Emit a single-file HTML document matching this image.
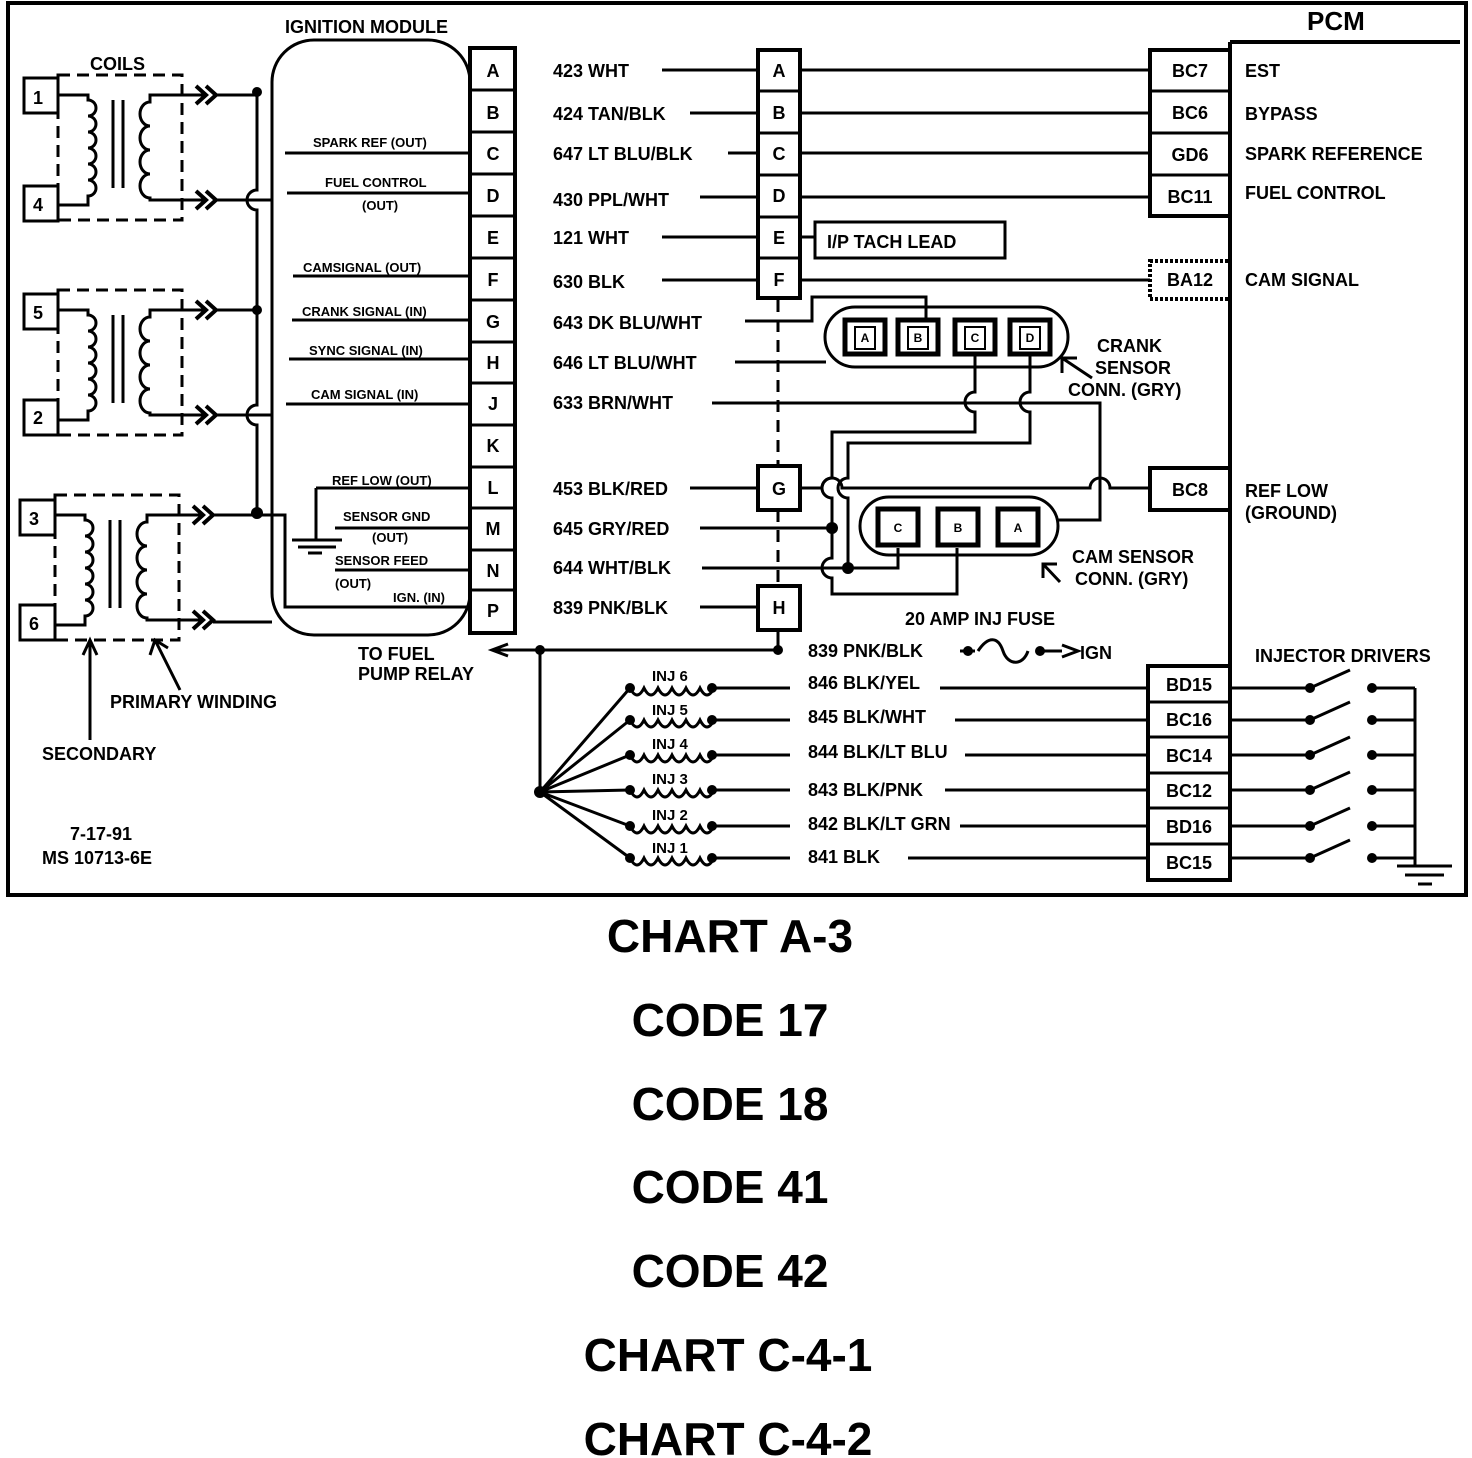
<!DOCTYPE html>
<html><head><meta charset="utf-8"><style>
html,body{margin:0;padding:0;background:#fff}
svg{display:block}
text{font-family:"Liberation Sans",sans-serif;font-weight:bold;fill:#000}
</style></head><body>
<svg width="1472" height="1458" viewBox="0 0 1472 1458" xmlns="http://www.w3.org/2000/svg">
<defs>
<g id="coil" fill="none" stroke="#000" stroke-width="3">
  <rect x="58" y="75" width="124" height="145" stroke-dasharray="12,7"/>
  <path d="M58,95 H88 V100 a8,8 0 0 1 0,16 a8,8 0 0 1 0,16 a8,8 0 0 1 0,16 a8,8 0 0 1 0,16 a8,8 0 0 1 0,16 a8,8 0 0 1 0,16 V205 H58"/>
  <line x1="113" y1="100" x2="113" y2="188"/><line x1="123" y1="100" x2="123" y2="188"/>
  <path d="M205,95 H150 V102 a10,12 0 0 0 0,24 a10,12 0 0 0 0,24 a10,12 0 0 0 0,24 a10,12 0 0 0 0,24 V200 H205"/>
  <path d="M196,86 l10,9 l-10,9 M206,86 l10,9 l-10,9 M196,191 l10,9 l-10,9 M206,191 l10,9 l-10,9" stroke-width="4"/>
</g>
</defs>
<g fill="none" stroke="#000" stroke-width="3">
<rect x="8" y="3" width="1458" height="892" stroke-width="4"/>
<use href="#coil"/>
<use href="#coil" transform="translate(0,215)"/>
<use href="#coil" transform="translate(-3,420)"/>
<rect x="24" y="78" width="34" height="35"/><rect x="24" y="186" width="34" height="35"/>
<rect x="24" y="294" width="34" height="35"/><rect x="24" y="400" width="34" height="35"/>
<rect x="20" y="500" width="35" height="35"/><rect x="20" y="605" width="35" height="35"/>
<path d="M257,92 V190 a10,10 0 0 0 0,20 V405 a10,10 0 0 0 0,20 V513"/>
<path d="M215,95 H257 M215,200 H272 M215,310 H257 M215,415 H272 M213,515 H285 V607 H470 M213,622 H272"/>
<rect x="272" y="40" width="198" height="595" rx="42"/>
<rect x="470" y="48" width="45" height="585" stroke-width="4"/>
<path d="M470,90 H515 M470,132 H515 M470,174 H515 M470,216 H515 M470,258 H515 M470,300 H515 M470,342 H515 M470,383 H515 M470,425 H515 M470,467 H515 M470,508 H515 M470,550 H515 M470,590 H515"/>
<path d="M285,153 H470 M287,193 H470 M293,276 H470 M292,320 H470 M289,359 H470 M286,404 H470 M316,488 H470 M316,488 V540 M335,528 H470 M335,570 H470"/>
<path d="M292,540 H342 M298,547 H336 M308,553 H322"/>
<rect x="758" y="50" width="42" height="248" stroke-width="4"/>
<path d="M758,91 H800 M758,133 H800 M758,175 H800 M758,217 H800 M758,258 H800"/>
<rect x="758" y="466" width="42" height="44" stroke-width="4"/>
<rect x="758" y="586" width="42" height="44" stroke-width="4"/>
<path d="M778,300 V466 M778,510 V586" stroke-dasharray="12,8"/>
<path d="M662,70 H758 M690,113 H758 M728,153 H758 M700,197 H758 M662,237 H758 M662,280 H758 M690,488 H758 M700,528 H832 M702,568 H898 V548 M700,607 H758"/>
<path d="M800,70 H1150 M800,113 H1150 M800,153 H1150 M800,197 H1150 M800,237 H815 M800,280 H1150 M800,488 H822 a10,10 0 0 1 20,0 H1090 a10,10 0 0 1 20,0 H1150"/>
<rect x="815" y="222" width="190" height="36"/>
<rect x="825" y="307" width="243" height="60" rx="30"/>
<rect x="845" y="320" width="40" height="34" stroke-width="5"/><rect x="855" y="327" width="20" height="22" stroke-width="2"/>
<rect x="898" y="320" width="40" height="34" stroke-width="5"/><rect x="908" y="327" width="20" height="22" stroke-width="2"/>
<rect x="955" y="320" width="40" height="34" stroke-width="5"/><rect x="965" y="327" width="20" height="22" stroke-width="2"/>
<rect x="1010" y="320" width="40" height="34" stroke-width="5"/><rect x="1020" y="327" width="20" height="22" stroke-width="2"/>
<path d="M745,321 H812 V297 H926 V320 M735,362 H826"/>
<path d="M975,354 V392 a10,10 0 0 0 0,20 V432 H832 V478 a10,10 0 0 0 0,20 V558 a10,10 0 0 0 0,20 V594 H957 V548"/>
<path d="M1030,354 V392 a10,10 0 0 0 0,20 V443 H848 V478 a10,10 0 0 0 0,20 V568"/>
<path d="M712,403 H1100 V520 H1058"/>
<rect x="860" y="497" width="198" height="58" rx="29"/>
<rect x="878" y="509" width="40" height="36" stroke-width="5"/>
<rect x="938" y="509" width="40" height="36" stroke-width="5"/>
<rect x="998" y="509" width="40" height="36" stroke-width="5"/>
<path d="M1092,378 L1062,358 M1062,373 V358 H1077"/>
<path d="M1060,582 L1043,564 M1043,578 V564 H1057"/>
<path d="M1230,42 H1460 M1230,42 V880" stroke-width="4"/>
<rect x="1150" y="50" width="80" height="166" stroke-width="4"/>
<path d="M1150,91 H1230 M1150,133 H1230 M1150,175 H1230"/>
<rect x="1150" y="261" width="80" height="38" stroke-width="4" stroke-dasharray="3,2"/>
<rect x="1150" y="468" width="80" height="42" stroke-width="4"/>
<rect x="1148" y="666" width="82" height="214" stroke-width="4"/>
<path d="M1148,702 H1230 M1148,737 H1230 M1148,773 H1230 M1148,808 H1230 M1148,844 H1230"/>
<path d="M778,630 V650 M495,650 H778 M540,650 V792"/>
<path d="M508,644 L492,650 L508,656"/>
<path d="M540,792 L630,688 M540,792 L630,720 M540,792 L630,755 M540,792 L630,790 M540,792 L630,826 M540,792 L630,858"/>
<path d="M960,651 H975 M1042,651 H1062 M978,651 c10,-15 20,-15 25,0 c5,15 20,15 25,0"/>
<path d="M1062,645 L1078,651 L1062,657"/>
<path id="inj" d="M630,688 q7,14 14,0 q7,14 14,0 q7,14 14,0 q7,14 14,0 q7,14 14,0 q7,14 14,0 H790"/>
<use href="#inj" transform="translate(0,32)"/>
<use href="#inj" transform="translate(0,67)"/>
<use href="#inj" transform="translate(0,102)"/>
<use href="#inj" transform="translate(0,138)"/>
<use href="#inj" transform="translate(0,170)"/>
<path d="M940,688 H1148 M955,720 H1148 M965,755 H1148 M945,790 H1148 M960,826 H1148 M908,858 H1148"/>
<path d="M1230,688 H1310 L1350,670 M1372,688 H1415 M1230,720 H1310 L1350,702 M1372,720 H1415 M1230,755 H1310 L1350,737 M1372,755 H1415 M1230,790 H1310 L1350,772 M1372,790 H1415 M1230,826 H1310 L1350,808 M1372,826 H1415 M1230,858 H1310 L1350,840 M1372,858 H1415 M1415,688 V865 M1397,866 H1452 M1405,875 H1444 M1418,884 H1432"/>
<path d="M90,740 V640 M83,655 L90,640 L97,655 M180,690 L155,640 M150,655 L155,640 L168,648"/>
</g>
<g fill="#000">
<circle cx="257" cy="92" r="5"/><circle cx="257" cy="310" r="5"/><circle cx="257" cy="513" r="6"/>
<circle cx="832" cy="528" r="6"/><circle cx="848" cy="568" r="6"/>
<circle cx="540" cy="650" r="5"/><circle cx="778" cy="650" r="5"/><circle cx="540" cy="792" r="6"/>
<circle cx="968" cy="651" r="5"/><circle cx="1040" cy="651" r="5"/>
<g id="dots"><circle cx="630" cy="688" r="5"/><circle cx="712" cy="688" r="5"/><circle cx="1310" cy="688" r="5"/><circle cx="1372" cy="688" r="5"/></g>
<use href="#dots" transform="translate(0,32)"/><use href="#dots" transform="translate(0,67)"/><use href="#dots" transform="translate(0,102)"/><use href="#dots" transform="translate(0,138)"/><use href="#dots" transform="translate(0,170)"/>
</g>
<g font-size="18">
<text x="33" y="104">1</text><text x="33" y="211">4</text><text x="33" y="319">5</text><text x="33" y="424">2</text><text x="29" y="525">3</text><text x="29" y="630">6</text>
<text x="90" y="70">COILS</text>
<text x="285" y="33">IGNITION MODULE</text>
<g text-anchor="middle"><text x="493" y="77">A</text><text x="493" y="119">B</text><text x="493" y="160">C</text><text x="493" y="202">D</text><text x="493" y="244">E</text><text x="493" y="286">F</text><text x="493" y="328">G</text><text x="493" y="369">H</text><text x="493" y="410">J</text><text x="493" y="452">K</text><text x="493" y="494">L</text><text x="493" y="535">M</text><text x="493" y="577">N</text><text x="493" y="617">P</text>
<text x="779" y="77">A</text><text x="779" y="119">B</text><text x="779" y="160">C</text><text x="779" y="202">D</text><text x="779" y="244">E</text><text x="779" y="286">F</text><text x="779" y="495">G</text><text x="779" y="614">H</text>
<text x="1190" y="77">BC7</text><text x="1190" y="119">BC6</text><text x="1190" y="161">GD6</text><text x="1190" y="203">BC11</text><text x="1190" y="286">BA12</text><text x="1190" y="496">BC8</text>
<text x="1189" y="691">BD15</text><text x="1189" y="726">BC16</text><text x="1189" y="762">BC14</text><text x="1189" y="797">BC12</text><text x="1189" y="833">BD16</text><text x="1189" y="869">BC15</text>
</g>
<g font-size="12" text-anchor="middle"><text x="865" y="342">A</text><text x="918" y="342">B</text><text x="975" y="342">C</text><text x="1030" y="342">D</text><text x="898" y="532">C</text><text x="958" y="532">B</text><text x="1018" y="532">A</text></g>
<text x="553" y="77">423 WHT</text><text x="553" y="120">424 TAN/BLK</text><text x="553" y="160">647 LT BLU/BLK</text><text x="553" y="206">430 PPL/WHT</text><text x="553" y="244">121 WHT</text><text x="553" y="288">630 BLK</text><text x="553" y="329">643 DK BLU/WHT</text><text x="553" y="369">646 LT BLU/WHT</text><text x="553" y="409">633 BRN/WHT</text><text x="553" y="495">453 BLK/RED</text><text x="553" y="535">645 GRY/RED</text><text x="553" y="574">644 WHT/BLK</text><text x="553" y="614">839 PNK/BLK</text>
<text x="827" y="248">I/P TACH LEAD</text>
<text x="1245" y="77">EST</text><text x="1245" y="120">BYPASS</text><text x="1245" y="160">SPARK REFERENCE</text><text x="1245" y="199">FUEL CONTROL</text><text x="1245" y="286">CAM SIGNAL</text><text x="1245" y="497">REF LOW</text><text x="1245" y="519">(GROUND)</text>
<text x="1307" y="30" font-size="26">PCM</text>
<text x="1097" y="352">CRANK</text><text x="1095" y="374">SENSOR</text><text x="1068" y="396">CONN. (GRY)</text>
<text x="1072" y="563">CAM SENSOR</text><text x="1075" y="585">CONN. (GRY)</text>
<text x="905" y="625">20 AMP INJ FUSE</text>
<text x="808" y="657">839 PNK/BLK</text><text x="1080" y="659">IGN</text>
<text x="358" y="660">TO FUEL</text><text x="358" y="680">PUMP RELAY</text>
<text x="1255" y="662">INJECTOR DRIVERS</text>
<text x="808" y="689">846 BLK/YEL</text><text x="808" y="723">845 BLK/WHT</text><text x="808" y="758">844 BLK/LT BLU</text><text x="808" y="796">843 BLK/PNK</text><text x="808" y="830">842 BLK/LT GRN</text><text x="808" y="863">841 BLK</text>
<text x="110" y="708">PRIMARY WINDING</text><text x="42" y="760">SECONDARY</text>
<text x="70" y="840">7-17-91</text><text x="42" y="864">MS 10713-6E</text>
</g>
<g font-size="15"><text x="652" y="681">INJ 6</text><text x="652" y="715">INJ 5</text><text x="652" y="749">INJ 4</text><text x="652" y="784">INJ 3</text><text x="652" y="820">INJ 2</text><text x="652" y="853">INJ 1</text></g>
<g font-size="13">
<text x="313" y="147">SPARK REF (OUT)</text><text x="325" y="187">FUEL CONTROL</text><text x="362" y="210">(OUT)</text>
<text x="303" y="272">CAMSIGNAL (OUT)</text><text x="302" y="316">CRANK SIGNAL (IN)</text><text x="309" y="355">SYNC SIGNAL (IN)</text><text x="311" y="399">CAM SIGNAL (IN)</text>
<text x="332" y="485">REF LOW (OUT)</text><text x="343" y="521">SENSOR GND</text><text x="372" y="542">(OUT)</text><text x="335" y="565">SENSOR FEED</text><text x="335" y="588">(OUT)</text><text x="393" y="602">IGN. (IN)</text>
</g>
<g font-size="46" text-anchor="middle">
<text x="730" y="952">CHART A-3</text><text x="730" y="1036">CODE 17</text><text x="730" y="1120">CODE 18</text><text x="730" y="1203">CODE 41</text><text x="730" y="1287">CODE 42</text><text x="728" y="1371">CHART C-4-1</text><text x="728" y="1455">CHART C-4-2</text>
</g>
</svg>
</body></html>
